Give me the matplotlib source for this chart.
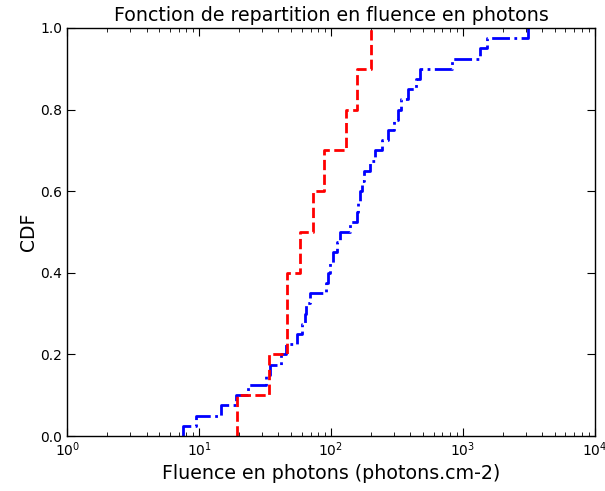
import numpy as np
import matplotlib
matplotlib.use("Agg")
import matplotlib.pyplot as plt

# Sample values (fluence, photons.cm-2), sorted
red_values = [19.4, 33.9, 46.4, 46.4, 58.2, 73, 88.5, 130, 157, 201]
blue_values = [7.56, 9.49, 14.7, 19.1, 23.5, 32.2, 34.5, 41.8, 45.6, 55.3,
               60.3, 63.5, 64.7, 69.3, 91.6, 94.9, 98.3, 103.5, 111, 117,
               139, 157, 160, 166, 172, 178, 197, 215, 243, 270,
               300, 322, 339, 383, 441, 472, 826, 1345, 1520, 3106]

title = "Fonction de repartition en fluence en photons"
xlabel = "Fluence en photons (photons.cm-2)"
ylabel = "CDF"


def cdf_xy(vals):
    v = np.sort(np.asarray(vals, dtype=float))
    n = len(v)
    x = np.concatenate([[v[0]], v])
    y = np.arange(n + 1) / n
    return x, y


fig = plt.figure(figsize=(6.05, 4.91), dpi=100)
ax = fig.add_axes([0.111, 0.112, 0.872, 0.831])

xr, yr = cdf_xy(red_values)
xb, yb = cdf_xy(blue_values)
ax.step(xb, yb, where="post", color="blue", linestyle="-.", linewidth=2)
ax.step(xr, yr, where="post", color="red", linestyle="--", linewidth=2)

ax.set_xscale("log")
ax.set_xlim(1, 1e4)
ax.set_ylim(0, 1.0)
ax.set_yticks([0.0, 0.2, 0.4, 0.6, 0.8, 1.0])
ax.set_yticklabels(["0.0", "0.2", "0.4", "0.6", "0.8", "1.0"])
ax.tick_params(which="both", direction="in", top=True, right=True, labelsize=10)
ax.tick_params(which="major", length=6)
ax.tick_params(which="minor", length=3)
for s in ax.spines.values():
    s.set_linewidth(1.0)

ax.set_title(title, fontsize=13.7, pad=5)
ax.set_xlabel(xlabel, fontsize=13.7, labelpad=3)
ax.set_ylabel(ylabel, fontsize=13.5, labelpad=2)

fig.savefig("out.png", dpi=100)
